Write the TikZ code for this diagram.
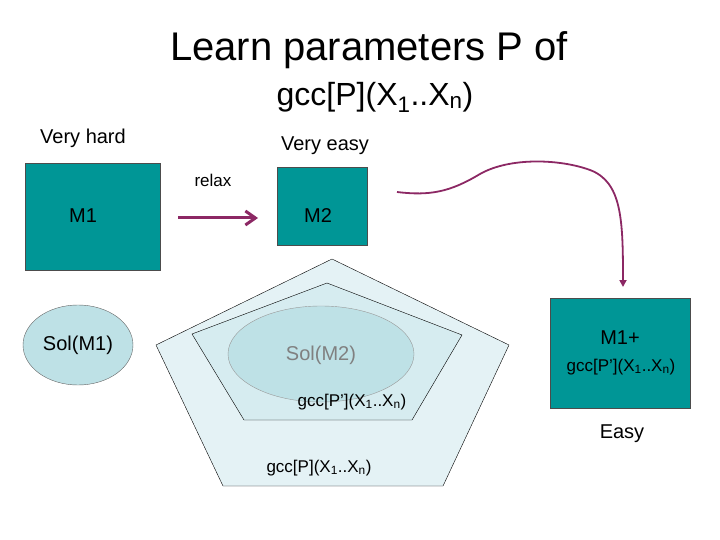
\documentclass[tikz,border=0pt]{standalone}
\usepackage{fontspec}
\setmainfont{Liberation Sans}
\usetikzlibrary{arrows.meta,shapes.geometric}
\definecolor{teal1}{RGB}{0,150,150}
\definecolor{lblue}{RGB}{228,242,245}
\definecolor{mblue}{RGB}{214,236,240}
\definecolor{eblue}{RGB}{190,225,230}
\definecolor{purp}{RGB}{140,40,100}
\begin{document}
\begin{tikzpicture}[x=1pt,y=-1pt,
  box/.style={draw=black!70,fill=teal1},
  lab/.style={font=\fontsize{20}{24}\selectfont,inner sep=0},
  sm/.style={font=\fontsize{17}{20}\selectfont,inner sep=0}]
\useasboundingbox (0,0) rectangle (720,540);
\node[font=\fontsize{40}{46}\selectfont,inner sep=0] (t1) at (369,50) {Learn parameters P of};
\node[font=\fontsize{32}{38}\selectfont,inner sep=0] (t2) at (375,97) {gcc[P](X\textsubscript{1}..X\textsubscript{n})};
\node[lab] (vh) at (83,138) {Very hard};
\node[lab] (ve) at (325,146) {Very easy};
\node[sm] (rx) at (213,180) {relax};
\draw[box] (25,163) rectangle (160,270);
\node[lab] (m1) at (83,216) {M1};
\draw[box] (277,167) rectangle (367,245);
\node[lab] (m2) at (318,216) {M2};
\coordinate (a1) at (178,218); \coordinate (a2) at (258,218);
\draw[purp,line width=3pt,-{Straight Barb[length=10pt,width=14pt]}] (a1) -- (a2);
\node[draw=black!60,fill=eblue,ellipse,minimum width=110,minimum height=80] (s1) at (78,345) {};
\node[lab] at (s1) {Sol(M1)};
\draw[fill=lblue] (332,259) -- (509,345) -- (443,486) -- (223,486) -- (156,345) -- cycle;
\draw[fill=mblue] (327,283) -- (462,335) -- (412,420) -- (244,420) -- (192,334) -- cycle;
\draw[draw=gray!80,fill=eblue] (321,354) ellipse [x radius=93,y radius=48];
\node[lab,text=gray] (s2) at (321,355) {Sol(M2)};
\node[sm] (g1) at (352,402) {gcc[P’](X\textsubscript{1}..X\textsubscript{n})};
\node[sm] (g2) at (319,468) {gcc[P](X\textsubscript{1}..X\textsubscript{n})};
\draw[box] (550,298) rectangle (690,408);
\node[lab] (m3) at (620,338) {M1+};
\node[sm] (g3) at (621,367) {gcc[P’](X\textsubscript{1}..X\textsubscript{n})};
\node[lab] (ez) at (622,434) {Easy};
\coordinate (c0) at (397,192); \coordinate (c1) at (623,287);
\draw[purp,line width=1.8pt,-{Triangle[length=7pt,width=7pt]}] (c0) .. controls (430,196) and (450,192) .. (480,174) .. controls (510,157) and (560,159) .. (590,170) .. controls (622,182) and (623,220) .. (c1);
\end{tikzpicture}
\end{document}
